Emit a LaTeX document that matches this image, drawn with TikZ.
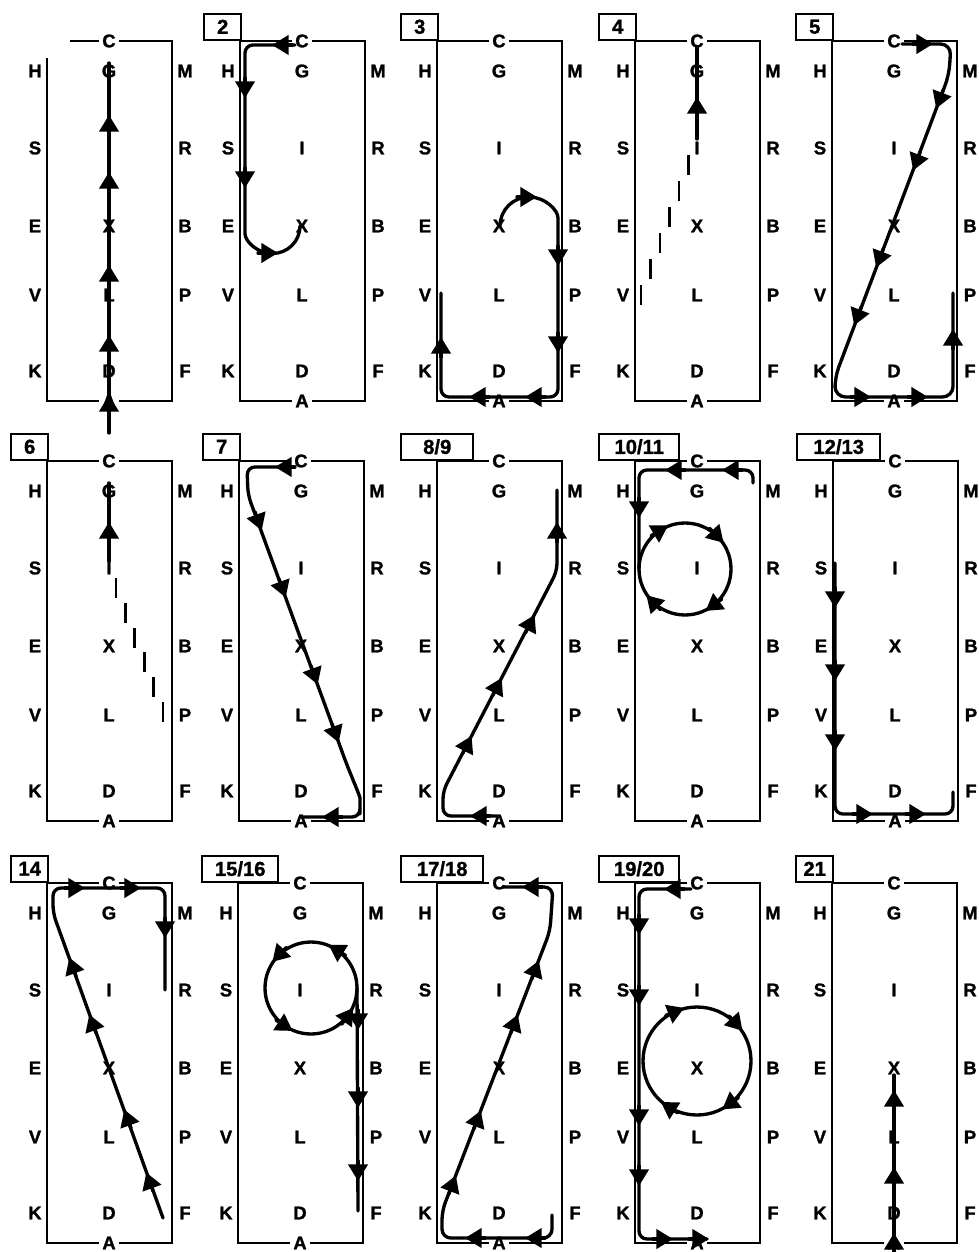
\documentclass[tikz,border=0pt]{standalone}
\usepackage{fontspec}
\setmainfont{Liberation Sans}[BoldFeatures={FakeBold=1.3}]
\usetikzlibrary{arrows.meta}
% arrowhead centred on a route point, heading given as angle (y runs down)
\newcommand{\headat}[2]{\draw[route,->] (#1) ++(#2:-12) -- ++(#2:20);}
% arrowhead on a circle: centre, radius, angle of the point, heading
\newcommand{\ringhead}[4]{\draw[route,->] (#1) ++(#3:#2) ++(#4:-12) -- ++(#4:20);}
% the arena markers
\newcommand{\arenaletters}{%
  \foreach \n/\y in {H/30,S/107,E/185,V/254,K/330} \node[ltr] (\n) at (-12,\y) {\n};
  \foreach \n/\y in {M/30,R/107,B/185,P/254,F/330} \node[ltr] (\n) at (138,\y) {\n};
  \foreach \n/\y in {G/30,I/107,X/185,L/254,D/330} \node[ltr] (\n) at (62,\y) {\n};
  \node[gapltr] (C) at (62,0) {C};
  \node[gapltr] (A) at (62,360) {A};}

\begin{document}
\begin{tikzpicture}[x=0.2mm, y=-0.2mm, >={Triangle[length=9.5pt,width=11pt]},
  font=\bfseries\fontsize{10.5}{12}\selectfont,
  rim/.style={line width=0.9pt},
  ltr/.style={inner sep=0pt},
  gapltr/.style={fill=white, inner sep=2pt},
  numbox/.style={draw, line width=1.4pt, fill=white, anchor=south west, minimum height=5.2mm, inner sep=0pt, font=\bfseries\fontsize{11.5}{12}\selectfont},
  route/.style={line width=1.9pt, line cap=round, line join=round},
  tick/.style={line width=1.5pt}]
\useasboundingbox (0,0) rectangle (979,1252);
% ---- row 1
\begin{scope}[shift={(47,41)}]
\draw[rim] (0,17) |- (125,360) |- (23,0);
\arenaletters
\draw[route] (62,392) -- (62,22);
\foreach \y in {82,139,232,302,362} {\headat{62,\y}{270}}
\end{scope}
\begin{scope}[shift={(240,41)}]
\draw[rim] (0,0) rectangle (125,360);
\node[numbox, minimum width=7.4mm] (num) at (-37,0) {2};
\arenaletters
\draw[route, rounded corners=4.5pt] (55,4) -- (5,4) -- (5,185) arc[start angle=180, end angle=0, radius=27.5];
\headat{40,4}{180} \headat{5,49}{90} \headat{5,139}{90} \headat{30,212}{0}
\end{scope}
\begin{scope}[shift={(437,41)}]
\draw[rim] (0,0) rectangle (125,360);
\node[numbox, minimum width=7.4mm] (num) at (-37,0) {3};
\arenaletters
\draw[route, rounded corners=4.5pt] (63,185) arc[start angle=180, end angle=360, radius=29] -- (121,356) -- (4,356) -- (4,252);
\headat{92,156}{0} \headat{121,217}{90} \headat{121,304}{90}
\headat{96,356}{180} \headat{40,356}{180} \headat{4,304}{270}
\end{scope}
\begin{scope}[shift={(635,41)}]
\draw[rim] (0,0) rectangle (125,360);
\node[numbox, minimum width=7.4mm] (num) at (-37,0) {4};
\arenaletters
\foreach \k in {0,...,5} {\draw[tick] ({6+9.5*\k},{244-26*\k}) -- ++(0,20);}
\draw[route] (62,98) -- (62,6);
\headat{62,64}{270}
\end{scope}
\begin{scope}[shift={(832,41)}]
\draw[rim] (0,0) rectangle (125,360);
\node[numbox, minimum width=7.4mm] (num) at (-37,0) {5};
\arenaletters
\draw[route, rounded corners=6pt] (70,3) -- (119,3) -- (117,34) -- (3,336) -- (3,356) -- (121,356) -- (121,252);
\headat{93,3}{0}
\foreach \x/\y in {107/60,84/122,47/219,25/277} {\headat{\x,\y}{111}}
\headat{31,356}{0} \headat{88,356}{0} \headat{121,296}{270}
\end{scope}
% ---- row 2
\begin{scope}[shift={(47,461)}]
\draw[rim] (0,0) rectangle (125,360);
\node[numbox, minimum width=7.4mm] (num) at (-37,0) {6};
\arenaletters
\foreach \k in {0,...,5} {\draw[tick] ({69+9.4*\k},{117+24.8*\k}) -- ++(0,20);}
\draw[route] (62,100) -- (62,22);
\headat{62,69}{270}
\end{scope}
\begin{scope}[shift={(239,461)}]
\draw[rim] (0,0) rectangle (125,360);
\node[numbox, minimum width=7.4mm] (num) at (-37,0) {7};
\arenaletters
\draw[route, rounded corners=4.5pt] (55,6) -- (8,6) -- (9,34) -- (101,285) .. controls (110,310) and (121,335) .. (121,345) -- (121,356) -- (62,356);
\foreach \x/\y in {20/62,44/129,76/216,97/274} {\headat{\x,\y}{70}}
\headat{44,6}{180} \headat{91,356}{180}
\end{scope}
\begin{scope}[shift={(437,461)}]
\draw[rim] (0,0) rectangle (125,360);
\node[numbox, minimum width=14.4mm] (num) at (-37,0) {8/9};
\arenaletters
\draw[route, rounded corners=4.5pt] (60,355) -- (6,355) -- (6,330) -- (120,110) -- (120,29);
\headat{41,355}{180}
\foreach \x/\y in {31/282,61/224,94/161} {\headat{\x,\y}{297}}
\headat{120,69}{270}
\end{scope}
\begin{scope}[shift={(635,461)}]
\draw[rim] (0,0) rectangle (125,360);
\node[numbox, minimum width=16mm] (num) at (-37,0) {10/11};
\arenaletters
\draw[route, rounded corners=4.5pt] (118,22) -- (118,9) -- (4,9) -- (4,108);
\draw[route] (50,108) circle[radius=46];
\headat{95,9}{180} \headat{38,9}{180} \headat{4,49}{90}
\foreach \a/\d in {239/329,316/46,136/226,54/144} {\ringhead{50,108}{46}{\a}{\d}}
\end{scope}
\begin{scope}[shift={(833,461)}]
\draw[rim] (0,0) rectangle (125,360);
\node[numbox, minimum width=16.6mm] (num) at (-37,0) {12/13};
\arenaletters
\draw[route, rounded corners=4.5pt] (2,102) -- (2,353) -- (120,353) -- (120,331);
\foreach \y in {139,212,282} {\headat{2,\y}{90}}
\headat{32,353}{0} \headat{85,353}{0}
\end{scope}
% ---- row 3
\begin{scope}[shift={(47,883)}]
\draw[rim] (0,0) rectangle (125,360);
\node[numbox, minimum width=7.4mm] (num) at (-37,0) {14};
\arenaletters
\draw[route, rounded corners=4.5pt] (116,335) -- (6,30) -- (6,5) -- (118,5) -- (118,107);
\foreach \x/\y in {102/297,80/234,45/139,25/82} {\headat{\x,\y}{250}}
\headat{30,5}{0} \headat{86,5}{0} \headat{118,47}{90}
\end{scope}
\begin{scope}[shift={(238,883)}]
\draw[rim] (0,0) rectangle (125,360);
\node[numbox, minimum width=15.2mm] (num) at (-37,0) {15/16};
\arenaletters
\draw[route] (73,105) circle[radius=46];
\draw[route] (119,105) -- (120,328);
\foreach \y in {139,217,290} {\headat{120,\y}{90}}
\foreach \a/\d in {224/134,302/212,35/305,123/33} {\ringhead{73,105}{46}{\a}{\d}}
\end{scope}
\begin{scope}[shift={(437,883)}]
\draw[rim] (0,0) rectangle (125,360);
\node[numbox, minimum width=16.4mm] (num) at (-37,0) {17/18};
\arenaletters
\draw[route, rounded corners=5pt] (115,332) -- (115,355) -- (5,355) -- (5,328) -- (113,48) -- (116,4) -- (66,4);
\headat{96,355}{180} \headat{36,355}{180}
\foreach \x/\y in {16/300,41/235,78/139,99/85} {\headat{\x,\y}{291}}
\headat{93,4}{180}
\end{scope}
\begin{scope}[shift={(635,883)}]
\draw[rim] (0,0) rectangle (125,360);
\node[numbox, minimum width=16mm] (num) at (-37,0) {19/20};
\arenaletters
\draw[route, rounded corners=4.5pt] (56,6) -- (4,6) -- (4,356) -- (72,356);
\draw[route] (62,178) circle[radius=54];
\headat{37,6}{180}
\foreach \y in {44,115,235,295} {\headat{4,\y}{90}}
\headat{30,356}{0} \headat{66,356}{0}
\foreach \a/\d in {248/338,318/48,54/144,123/213} {\ringhead{62,178}{54}{\a}{\d}}
\end{scope}
\begin{scope}[shift={(832,883)}]
\draw[rim] (0,0) rectangle (125,360);
\node[numbox, minimum width=7.4mm] (num) at (-37,0) {21};
\arenaletters
\draw[route] (62,366) -- (62,192);
\foreach \y in {215,292,358} {\headat{62,\y}{270}}
\end{scope}
\end{tikzpicture}
\end{document}
